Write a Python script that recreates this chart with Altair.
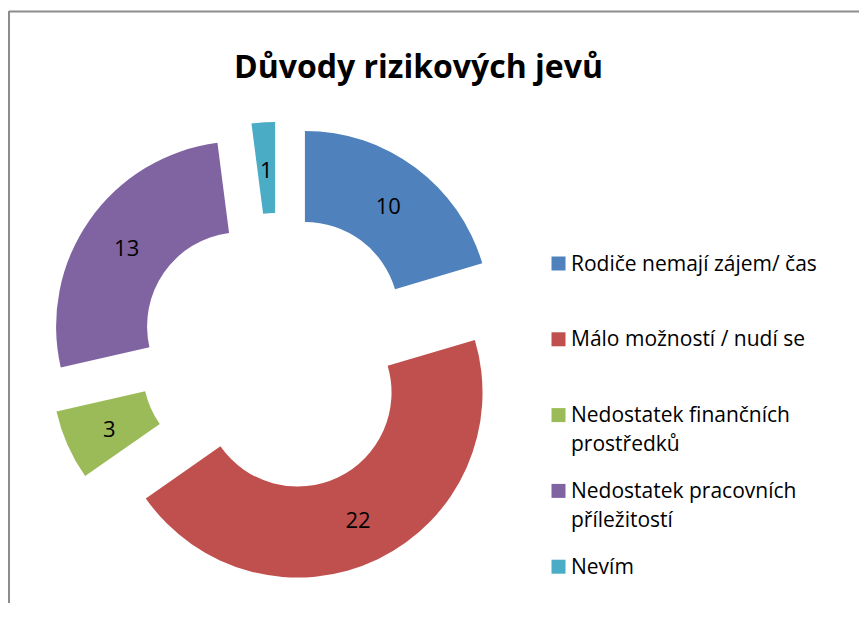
import altair as alt
import pandas as pd

categories = [
    "Rodiče nemají zájem/ čas",
    "Málo možností / nudí se",
    "Nedostatek finančních prostředků",
    "Nedostatek pracovních příležitostí",
    "Nevím",
]
values = [10, 22, 3, 13, 1]
colors = ["#4F81BD", "#C0504D", "#9BBB59", "#8064A2", "#4BACC6"]
title_text = "Důvody rizikových jevů"

# layout constants (pixels inside the plot area)
W, H = 850, 592
CX, CY = 269, 341          # pie centre
R_OUT, R_IN = 185, 94       # ring radii
EXPLODE = 45                # radial offset of each slice
LABEL_R = (R_OUT + R_IN) / 2
FONT = "Open Sans"
BORDER = "#8C8C8C"

df = pd.DataFrame({"cat": categories, "value": values, "idx": list(range(len(values)))})

base = alt.Chart(df).transform_joinaggregate(
    total="sum(value)"
).transform_window(
    cum="sum(value)", sort=[alt.SortField("idx")], frame=[None, 0]
).transform_calculate(
    a0="2*PI*(datum.cum - datum.value)/datum.total",
    a1="2*PI*datum.cum/datum.total",
).transform_calculate(
    mid="(datum.a0 + datum.a1)/2"
).transform_calculate(
    px=f"{CX} + {EXPLODE}*sin(datum.mid)",
    py=f"{CY} - {EXPLODE}*cos(datum.mid)",
).transform_calculate(
    lx=f"datum.px + {LABEL_R}*sin(datum.mid)",
    ly=f"datum.py - {LABEL_R}*cos(datum.mid)",
)

split_expr = (
    "length(datum.label) > 25 ? "
    "[substring(datum.label, 0, lastindexof(datum.label, ' ')), "
    "substring(datum.label, lastindexof(datum.label, ' ') + 1)] : datum.label"
)

arcs = base.mark_arc(innerRadius=R_IN, outerRadius=R_OUT).encode(
    theta=alt.Theta("a0:Q", scale=None, stack=False),
    theta2="a1:Q",
    x=alt.X("px:Q", scale=None, axis=None),
    y=alt.Y("py:Q", scale=None, axis=None),
    color=alt.Color(
        "cat:N",
        scale=alt.Scale(domain=categories, range=colors),
        sort=categories,
        legend=alt.Legend(
            title=None,
            orient="none",
            legendX=539,
            legendY=249,
            symbolType="M-1,-2H1V0H-1Z",
            symbolSize=196,
            symbolStrokeWidth=0,
            symbolOpacity=1,
            labelFont=FONT,
            labelFontSize=21,
            labelColor="#000000",
            labelBaseline="alphabetic",
            labelOffset=2,
            labelLimit=400,
            labelExpr=split_expr,
            gridAlign="all",
            rowPadding=24.8,
            padding=0,
        ),
    ),
    order=alt.Order("idx:Q"),
)

labels = base.mark_text(font=FONT, fontSize=22, color="#000000", baseline="middle", dy=3).encode(
    x=alt.X("lx:Q", scale=None, axis=None),
    y=alt.Y("ly:Q", scale=None, axis=None),
    text="value:Q",
)

frame_src = alt.Chart(alt.Data(values=[{"f": 0}]))
top_border = frame_src.mark_rule(color=BORDER, strokeWidth=2).encode(
    x=alt.value(0), x2=alt.value(W), y=alt.value(0.5)
)
left_border = frame_src.mark_rule(color=BORDER, strokeWidth=2).encode(
    x=alt.value(0), y=alt.value(0), y2=alt.value(H)
)

chart = alt.layer(arcs, labels, top_border, left_border).properties(
    width=W,
    height=H,
    padding={"left": 1, "top": 3, "right": 0, "bottom": 0},
    autosize=alt.AutoSizeParams(type="none"),
    title=alt.TitleParams(
        title_text,
        font=FONT,
        fontSize=32,
        fontWeight="bold",
        color="#000000",
        anchor="start",
        baseline="alphabetic",
        offset=0,
        dx=226,
        dy=100,
    ),
).configure(
    style={"guide-label": {"lineHeight": 29}},
    view=alt.ViewConfig(strokeWidth=0),
)

chart.save("out.html", embed_options={"renderer": "svg", "actions": False})
